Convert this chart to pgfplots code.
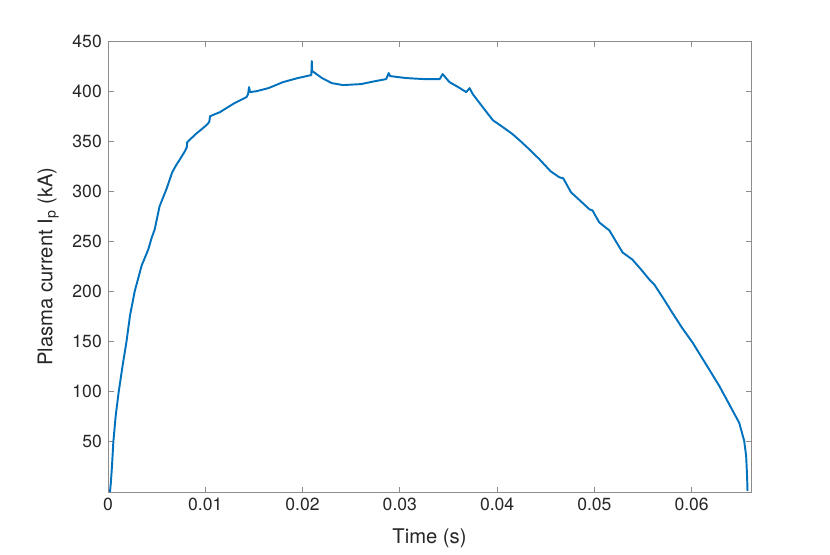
\documentclass[border=0pt]{standalone}
\usepackage{fontspec}
\setmainfont{TeX Gyre Heros}
\usepackage{pgfplots}
\pgfplotsset{compat=1.18}

\definecolor{mlblue}{rgb}{0,0.447,0.741}
\definecolor{mltext}{rgb}{0.15,0.15,0.15}

\pgfplotstableread{
t I
0.00020 0
0.00030 10
0.00041 26
0.00055 50
0.00079 76
0.00110 100
0.00150 126
0.00190 150
0.00226 176
0.00274 200
0.00310 213
0.00346 226
0.00380 234
0.00414 242
0.00450 254
0.00480 262
0.00530 285
0.00600 302
0.00660 319
0.00700 326
0.00740 332
0.00790 340
0.00810 344
0.00814 349
0.00900 357
0.01000 365
0.01040 369
0.01050 375
0.01150 379
0.01300 388
0.01424 394
0.01440 397
0.01450 404
0.01460 399
0.01530 400
0.01650 403
0.01800 409
0.01950 413
0.02090 416
0.02095 430
0.02100 420
0.02200 413
0.02300 408
0.02416 406
0.02600 407
0.02750 410
0.02860 412
0.02885 418
0.02900 415
0.03066 413
0.03250 412
0.03410 412
0.03440 417
0.03510 409
0.03600 404
0.03683 399
0.03717 403
0.03750 397
0.03860 383
0.03956 371
0.04060 364
0.04160 357
0.04230 351
0.04330 342
0.04435 332
0.04550 320
0.04640 314
0.04680 313
0.04760 299
0.04850 291
0.04950 282
0.04980 281
0.05050 269
0.05154 261
0.05290 239
0.05390 232
0.05480 222
0.05565 212
0.05616 207
0.05710 193
0.05800 179
0.05900 164
0.06010 149
0.06150 127
0.06283 106
0.06400 85
0.06489 69
0.06540 51
0.06560 36
0.06570 15
0.06574 1
}\ipdata

\begin{document}
\begin{tikzpicture}
\path[use as bounding box] (-2.16cm,-1.24cm) rectangle (14.44cm,9.84cm);
\begin{axis}[
  at={(0,0)}, anchor=south west,
  scale only axis,
  width=12.86cm, height=9.02cm,
  xmin=0, xmax=0.0661,
  ymin=0, ymax=450,
  xtick={0,0.01,0.02,0.03,0.04,0.05,0.06},
  xticklabels={0,0.01,0.02,0.03,0.04,0.05,0.06},
  scaled x ticks=false,
  ytick={50,100,...,450},
  xlabel={Time (s)},
  ylabel={Plasma current I\textsubscript{p} (kA)},
  tick align=inside,
  major tick length=0.11cm,
  axis line style={draw=black!45, line width=0.5pt},
  every tick/.style={draw=black!45, line width=0.5pt},
  tick label style={font=\fontsize{10}{12}\selectfont, text=mltext},
  label style={font=\fontsize{11.5}{13}\selectfont, text=mltext},
  xlabel style={yshift=-3pt},
  ylabel style={yshift=1pt},
  /pgf/number format/assume math mode=true,
]
\addplot[mlblue, line width=1.1pt, line join=round] table[x=t, y=I] {\ipdata};
\end{axis}
\end{tikzpicture}
\end{document}
